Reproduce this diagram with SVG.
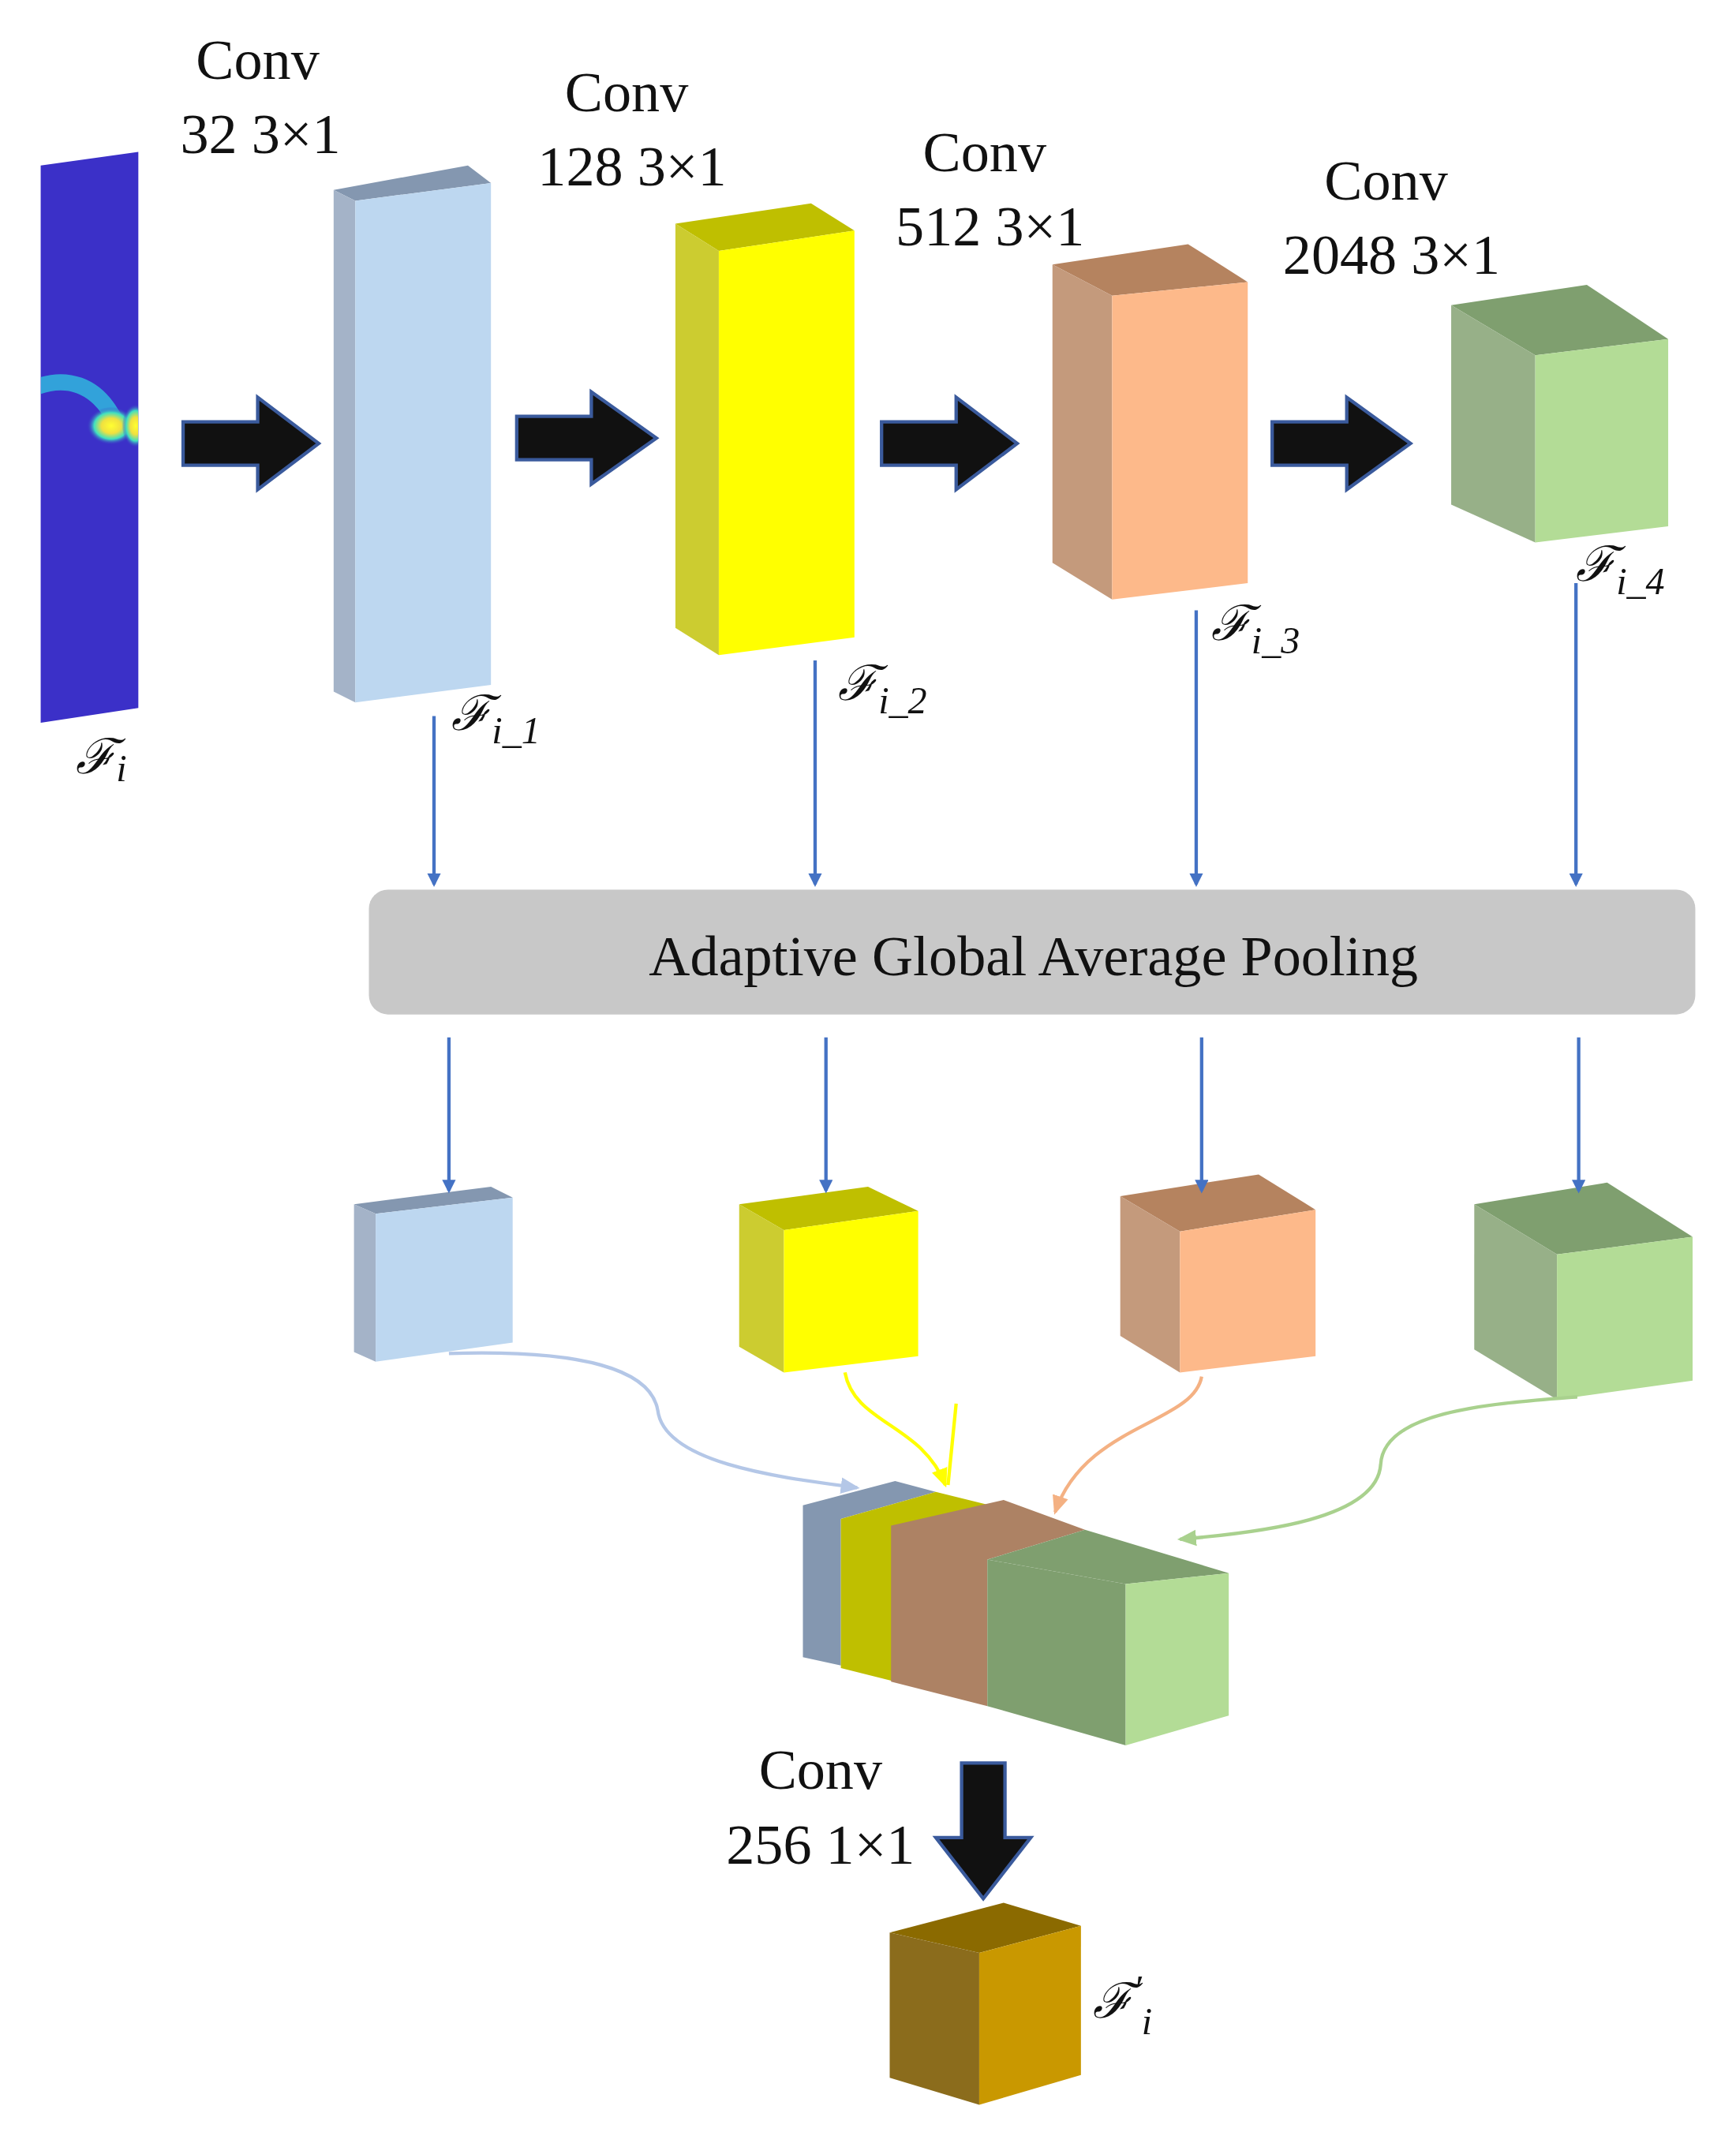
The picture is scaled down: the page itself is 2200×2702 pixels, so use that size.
<svg xmlns="http://www.w3.org/2000/svg" width="2200" height="2702" viewBox="0 0 2200 2702">
<defs>
<style>
.t{font-family:"Liberation Serif",serif;font-size:42px;fill:#111;text-anchor:middle}
.f{font-family:"DejaVu Serif","Liberation Serif",serif;font-style:italic;font-size:36px;fill:#111}
.s{font-family:"Liberation Serif",serif;font-style:italic;font-size:28px}
.ln{fill:none;stroke:#4472c4;stroke-width:2.5;marker-end:url(#ah)}
.big{fill:#111;stroke:#3a5a9c;stroke-width:2.5}
</style>
<marker id="ah" markerWidth="10" markerHeight="10" refX="8" refY="5" orient="auto" markerUnits="userSpaceOnUse" viewBox="0 0 10 10"><path d="M0,0L10,5L0,10z" fill="#4472c4"/></marker>
<marker id="ahb" markerWidth="14" markerHeight="14" refX="12" refY="7" orient="auto" markerUnits="userSpaceOnUse" viewBox="0 0 14 14"><path d="M0,1L14,7L0,13z" fill="#b4c7e7"/></marker>
<marker id="ahy" markerWidth="14" markerHeight="14" refX="12" refY="7" orient="auto" markerUnits="userSpaceOnUse" viewBox="0 0 14 14"><path d="M0,1L14,7L0,13z" fill="#ffff00"/></marker>
<marker id="aho" markerWidth="14" markerHeight="14" refX="12" refY="7" orient="auto" markerUnits="userSpaceOnUse" viewBox="0 0 14 14"><path d="M0,1L14,7L0,13z" fill="#f4b183"/></marker>
<marker id="ahg" markerWidth="14" markerHeight="14" refX="12" refY="7" orient="auto" markerUnits="userSpaceOnUse" viewBox="0 0 14 14"><path d="M0,1L14,7L0,13z" fill="#a9d18e"/></marker>
<radialGradient id="hot" cx="0.5" cy="0.5" r="0.5"><stop offset="0" stop-color="#ffff30"/><stop offset="0.4" stop-color="#f0e040"/><stop offset="0.7" stop-color="#40e0c0"/><stop offset="1" stop-color="#3b30c8" stop-opacity="0"/></radialGradient>
<clipPath id="hc"><polygon points="30,122 102,112 102,522 30,533"/></clipPath>
</defs>
<rect width="2200" height="2702" fill="#fff"/>
<g transform="scale(1.71875)">
<g id="input">
<polygon points="30,122 102,112 102,522 30,533" fill="#3b30c8"/>
<g clip-path="url(#hc)">
<path d="M25,286 C50,276 70,285 82,305 C90,318 98,318 110,302" fill="none" stroke="#30c8e0" stroke-width="12" opacity="0.75"/>
<ellipse cx="82" cy="314" rx="18" ry="14" fill="url(#hot)"/>
<ellipse cx="100" cy="314" rx="10" ry="16" fill="url(#hot)"/>
</g>
<text x="56" y="570" class="f">ℱ<tspan class="s" dy="6">i</tspan></text>
</g>
<g id="conv1">
<polygon points="246,140 345,122 362,135 262,148" fill="#8497b0"/>
<polygon points="246,140 262,148 262,518 246,510" fill="#a4b3c8"/>
<polygon points="262,148 362,135 362,505 262,518" fill="#bdd7f0"/>
<text x="190" y="58" class="t">Conv</text><text x="192" y="113" class="t">32 3×1</text>
<text x="333" y="538" class="f">ℱ<tspan class="s" dy="10">i_1</tspan></text>
</g>
<g id="conv2">
<polygon points="498,165 598,150 630,170 530,185" fill="#bfbf00"/>
<polygon points="498,165 530,185 530,483 498,463" fill="#cccc30"/>
<polygon points="530,185 630,170 630,470 530,483" fill="#ffff00"/>
<text x="462" y="82" class="t">Conv</text><text x="466" y="137" class="t">128 3×1</text>
<text x="618" y="516" class="f">ℱ<tspan class="s" dy="10">i_2</tspan></text>
</g>
<g id="conv3">
<polygon points="776,195 876,180 920,208 820,218" fill="#b5835f"/>
<polygon points="776,195 820,218 820,442 776,415" fill="#c49a7c"/>
<polygon points="820,218 920,208 920,430 820,442" fill="#fdb98a"/>
<text x="726" y="126" class="t">Conv</text><text x="730" y="181" class="t">512 3×1</text>
<text x="893" y="472" class="f">ℱ<tspan class="s" dy="10">i_3</tspan></text>
</g>
<g id="conv4">
<polygon points="1070,225 1170,210 1230,250 1132,262" fill="#7f9f6f"/>
<polygon points="1070,225 1132,262 1132,400 1070,372" fill="#97b088"/>
<polygon points="1132,262 1230,250 1230,388 1132,400" fill="#b3dc96"/>
<text x="1022" y="147" class="t">Conv</text><text x="1026" y="202" class="t">2048 3×1</text>
<text x="1162" y="428" class="f">ℱ<tspan class="s" dy="10">i_4</tspan></text>
</g>
<g id="pool">
<rect x="272" y="656" width="978" height="92" rx="14" fill="#c8c8c8"/>
<text x="762" y="719" class="t" font-size="40">Adaptive Global Average Pooling</text>
</g>
<g id="p1">
<polygon points="261,888 362,875 378,883 277,895" fill="#8497b0"/>
<polygon points="261,888 277,895 277,1004 261,997" fill="#a4b3c8"/>
<polygon points="277,895 378,883 378,990 277,1004" fill="#bdd7f0"/>
</g>
<g id="p2">
<polygon points="545,888 640,875 677,893 578,907" fill="#bfbf00"/>
<polygon points="545,888 578,907 578,1012 545,993" fill="#cccc30"/>
<polygon points="578,907 677,893 677,1000 578,1012" fill="#ffff00"/>
</g>
<g id="p3">
<polygon points="826,882 928,866 970,892 870,908" fill="#b5835f"/>
<polygon points="826,882 870,908 870,1012 826,985" fill="#c49a7c"/>
<polygon points="870,908 970,892 970,1000 870,1012" fill="#fdb98a"/>
</g>
<g id="p4">
<polygon points="1087,888 1185,872 1248,912 1148,925" fill="#7f9f6f"/>
<polygon points="1087,888 1148,925 1148,1032 1087,995" fill="#97b088"/>
<polygon points="1148,925 1248,912 1248,1018 1148,1032" fill="#b3dc96"/>
</g>
<g id="concat">
<polygon points="592,1110 660,1092 690,1100 620,1120 620,1228 592,1222" fill="#8497b0"/>
<polygon points="620,1120 690,1100 730,1110 660,1125 660,1240 620,1230" fill="#bfbf00"/>
<polygon points="657,1125 740,1106 800,1128 728,1150 728,1258 657,1240" fill="#ad8264"/>
<polygon points="728,1150 800,1128 906,1160 830,1168" fill="#7f9f6f"/>
<polygon points="728,1150 830,1168 830,1287 728,1258" fill="#7f9f6f"/>
<polygon points="830,1168 906,1160 906,1265 830,1287" fill="#b3dc96"/>
</g>
<g id="out">
<polygon points="656,1425 740,1403 797,1420 722,1440" fill="#8b6a00"/>
<polygon points="656,1425 722,1440 722,1552 656,1532" fill="#8b6c1c"/>
<polygon points="722,1440 797,1420 797,1530 722,1552" fill="#c99800"/>
<text x="605" y="1319" class="t">Conv</text><text x="605" y="1374" class="t">256 1×1</text>
<text x="806" y="1488" class="f">ℱ<tspan class="s" dy="-12">′</tspan><tspan class="s" dy="24">i</tspan></text>
</g>
<g id="connectors">
<polygon class="big" points="135,311 190,311 190,293 235,327 190,361 190,343 135,343"/>
<polygon class="big" points="381,307 436,307 436,289 484,323 436,357 436,339 381,339"/>
<polygon class="big" points="650,311 705,311 705,293 750,327 705,361 705,343 650,343"/>
<polygon class="big" points="938,311 993,311 993,293 1040,327 993,361 993,343 938,343"/>
<polygon class="big" points="709,1300 741,1300 741,1355 760,1355 725,1400 690,1355 709,1355"/>
<path class="ln" d="M320,528V652"/><path class="ln" d="M601,487V652"/><path class="ln" d="M882,450V652"/><path class="ln" d="M1162,430V652"/>
<path class="ln" d="M331,765V878"/><path class="ln" d="M609,765V878"/><path class="ln" d="M886,765V878"/><path class="ln" d="M1164,765V878"/>
<path d="M331,998 C430,995 480,1010 485,1040 C490,1080 580,1090 632,1097" fill="none" stroke="#b4c7e7" stroke-width="2.5" marker-end="url(#ahb)"/>
<path d="M623,1012 C630,1050 680,1050 697,1095" fill="none" stroke="#ffff00" stroke-width="2.5" marker-end="url(#ahy)"/>
<path d="M705,1035 L699,1095" fill="none" stroke="#ffff00" stroke-width="2.5"/>
<path d="M886,1015 C880,1050 800,1050 778,1115" fill="none" stroke="#f4b183" stroke-width="2.5" marker-end="url(#aho)"/>
<path d="M1163,1030 C1100,1035 1020,1040 1018,1080 C1015,1120 930,1130 870,1135" fill="none" stroke="#a9d18e" stroke-width="2.5" marker-end="url(#ahg)"/>
</g>
</g>
</svg>
